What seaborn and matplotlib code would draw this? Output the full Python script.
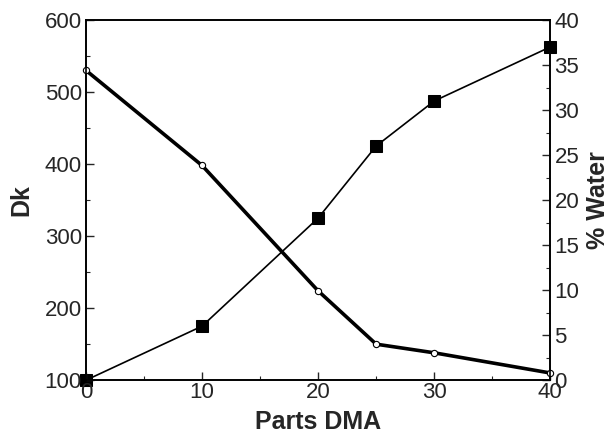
import seaborn as sns
import pandas as pd
import matplotlib.pyplot as plt
from matplotlib.ticker import MultipleLocator

parts_dma = [0, 10, 20, 25, 30, 40]
dk_values = [530, 398, 224, 150, 138, 110]
water_pct = [0, 6, 18, 26, 31, 37]

sns.set_style("ticks")
plt.rcParams["font.family"] = ["Liberation Sans", "DejaVu Sans"]

df = pd.DataFrame({"parts": parts_dma, "dk": dk_values, "water": water_pct})

fig = plt.figure(figsize=(6.1, 4.34), dpi=100)
ax = fig.add_axes([0.141, 0.124, 0.761, 0.830])
ax2 = ax.twinx()

# Dk: thick line, small open circles
sns.lineplot(data=df, x="parts", y="dk", ax=ax, color="black", linewidth=2.6,
             marker="o", markersize=4.5, markerfacecolor="white",
             markeredgecolor="black", markeredgewidth=0.8, clip_on=False)

# % Water: thin line, filled squares
sns.lineplot(data=df, x="parts", y="water", ax=ax2, color="black", linewidth=1.2,
             marker="s", markersize=8.5, markerfacecolor="black",
             markeredgecolor="black", clip_on=False)

ax.set_xlim(0, 40)
ax.set_ylim(100, 600)
ax2.set_ylim(0, 40)

ax.xaxis.set_major_locator(MultipleLocator(10))
ax.xaxis.set_minor_locator(MultipleLocator(5))
ax.yaxis.set_major_locator(MultipleLocator(100))
ax.yaxis.set_minor_locator(MultipleLocator(50))
ax2.yaxis.set_major_locator(MultipleLocator(5))
ax2.yaxis.set_minor_locator(MultipleLocator(2.5))

for a in (ax, ax2):
    a.tick_params(which="major", direction="in", length=6, width=1,
                  labelsize=16, pad=3)
    a.tick_params(which="minor", direction="in", length=3, width=0.8)
    for s in a.spines.values():
        s.set_linewidth(1.2)
        s.set_color("black")
ax.tick_params(axis="x", which="both", top=False, pad=1)
ax.tick_params(axis="y", which="both", right=False)
ax2.tick_params(axis="y", which="both", left=False)

ax.set_xlabel("Parts DMA", fontsize=18, fontweight="bold", labelpad=5)
ax.set_ylabel("Dk", fontsize=18, fontweight="bold", labelpad=8)
ax2.set_ylabel("% Water", fontsize=18, fontweight="bold", labelpad=5)

ax.set_zorder(ax2.get_zorder() + 1)
ax.patch.set_visible(False)

fig.savefig("out.png", dpi=100)
